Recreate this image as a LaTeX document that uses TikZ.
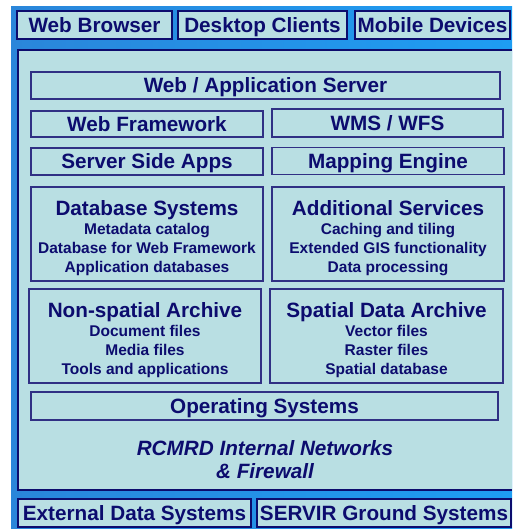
\documentclass[tikz,border=0pt]{standalone}
\usepackage{fontspec}
\setmainfont{Liberation Sans}
\usetikzlibrary{positioning}

\definecolor{navy}{HTML}{0C0C6E}
\definecolor{boxfill}{HTML}{B9DFE3}
\definecolor{bgdark}{HTML}{2A86DA}
\definecolor{bglight}{HTML}{1E9DF3}

\newcommand{\sublist}{\fontsize{15.5}{19}\selectfont}

\tikzset{
  layer/.style={draw=navy!85, line width=1.1pt, fill=boxfill, inner sep=0pt,
    outer sep=0pt, anchor=north west, text=navy, align=center,
    text height=15pt, text depth=0pt,
    font=\bfseries\fontsize{20.7}{19}\selectfont},
  stack/.style={layer, text height=78pt, text depth=2pt},
  client/.style={layer, draw=navy, line width=1.8pt},
  panel/.style={layer, draw=none},
}

\begin{document}
\begin{tikzpicture}[x=1pt, y=-1pt]
\useasboundingbox (0,0) rectangle (512,529);
\clip (0,0) rectangle (512,529);
\fill[white] (0,0) rectangle (512,529);
\shade[left color=bgdark, right color=bglight] (11,7) rectangle (512,529);

% clients
\node[client, minimum width=155pt, minimum height=28pt] (browser) at (17,11) {Web Browser};
\node[client, minimum width=169pt, minimum height=28pt] (desktop) at (178,11) {Desktop Clients};
\node[client, minimum width=155pt, minimum height=28pt] (mobile) at (355,11) {Mobile Devices};

% internal panel, open to the right
\node[panel, minimum width=494pt, minimum height=440pt] (rcmrd) at (18,50) {};
\draw[navy, line width=1.8pt] (rcmrd.north east) -- (rcmrd.north west)
  -- (rcmrd.south west) -- (rcmrd.south east);

\node[layer, minimum width=469pt, minimum height=27pt] (appserver) at (31,72) {Web / Application Server};
\node[layer, minimum width=232pt, minimum height=26pt] (framework) at (31,111) {Web Framework};
\node[layer, minimum width=231pt, minimum height=28pt] (wms) at (272,109) {WMS / WFS};
\node[layer, minimum width=232pt, minimum height=27pt] (serverapps) at (31,148) {Server Side Apps};
\node[layer, minimum width=232pt, minimum height=27pt] (mapping) at (272,147.5) {Mapping Engine};

\node[stack, minimum width=232pt, minimum height=94pt] (dbsys) at (31,187)
  {Database Systems\\ \sublist Metadata catalog\\
   \sublist Database for Web Framework\\ \sublist Application databases};
\node[stack, minimum width=232pt, minimum height=94pt] (services) at (272,187)
  {Additional Services\\ \sublist Caching and tiling\\
   \sublist Extended GIS functionality\\ \sublist Data processing};

\node[stack, minimum width=232pt, minimum height=94pt] (nonspatial) at (29,289)
  {Non-spatial Archive\\ \sublist Document files\\
   \sublist Media files\\ \sublist Tools and applications};
\node[stack, minimum width=233pt, minimum height=94pt] (spatial) at (270,289)
  {Spatial Data Archive\\ \sublist Vector files\\
   \sublist Raster files\\ \sublist Spatial database};

\node[layer, minimum width=467pt, minimum height=28pt] (os) at (31,392) {Operating Systems};

\node[text=navy, align=center, font=\bfseries\itshape\fontsize{20.7}{23}\selectfont]
  (network) at (265,460) {RCMRD Internal Networks\\ \& Firewall};

% external systems
\node[client, minimum width=233pt, minimum height=28pt] (external) at (18,499) {External Data Systems};
\node[client, minimum width=254pt, minimum height=28pt] (servir) at (257,499) {SERVIR Ground Systems};

\end{tikzpicture}
\end{document}
